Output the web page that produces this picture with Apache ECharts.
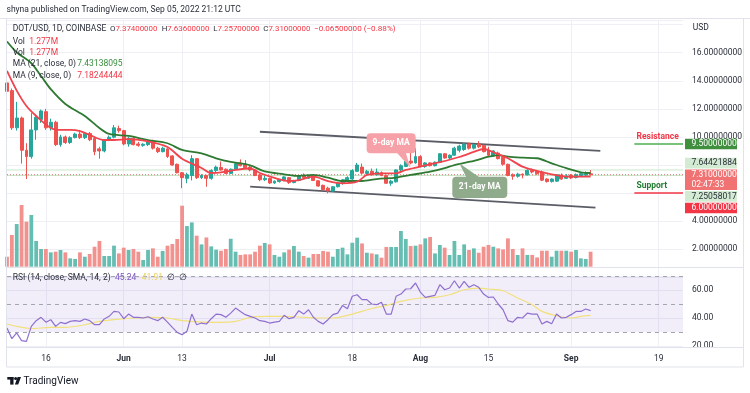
<!DOCTYPE html>
<html><head><meta charset="utf-8">
<script src="https://cdn.jsdelivr.net/npm/echarts@6/dist/echarts.min.js"></script>
<style>html,body{margin:0;padding:0;background:#fff}#c{width:750px;height:393px}</style>
</head><body><div id="c"></div>
<script>
// ---------- data ----------
const startDay = [2022, 4, 8];      // first category: 2022-05-08
const dayCount = 140;               // categories up to 2022-09-24 (blank space on the right)
const tickDates = ['2022-05-16','2022-06-01','2022-06-13','2022-07-01','2022-07-18','2022-08-01','2022-08-15','2022-09-01','2022-09-19'];
const tickLabels = ['16','Jun','13','Jul','18','Aug','15','Sep','19'];

const opens = [13.85,13.30,10.65,11.35,9.05,8.60,10.50,11.25,11.80,10.65,
11.05,9.45,10.00,9.60,9.95,10.20,9.95,10.25,9.90,9.15,
9.00,9.75,9.98,10.60,10.45,9.50,9.90,9.50,9.40,9.45,
9.70,9.20,8.95,9.15,8.65,8.05,7.45,7.05,7.25,8.45,
7.10,7.25,7.05,7.60,7.82,7.70,7.40,7.70,8.15,8.05,
7.85,7.65,7.30,6.95,7.05,6.72,6.82,6.95,7.10,6.75,
6.90,7.25,7.05,7.25,6.88,6.55,6.35,6.15,6.45,6.70,
6.85,7.00,7.55,7.85,7.40,7.55,7.30,7.45,7.25,6.70,
6.80,7.65,7.90,8.28,8.15,8.60,7.90,8.15,7.95,8.20,
8.80,8.50,8.70,9.05,9.10,9.50,9.20,9.50,9.40,9.00,
8.65,8.85,8.55,8.05,7.30,7.20,7.35,7.30,7.62,7.58,
7.50,7.00,6.82,6.85,7.28,7.05,7.28,7.10,7.25,7.28,
7.374];
const closes = [13.25,10.65,11.35,9.05,8.60,10.50,11.40,11.85,10.65,11.05,
9.45,10.00,9.60,9.95,10.20,9.95,10.25,9.80,8.95,9.00,
9.75,9.98,10.65,10.45,9.50,9.90,9.45,9.40,9.48,9.70,
9.20,8.95,9.20,8.60,8.00,7.45,7.10,7.30,8.45,7.10,
7.25,7.05,7.60,7.85,7.65,7.40,7.70,8.10,7.95,7.80,
7.65,7.25,6.95,7.05,6.72,6.85,6.95,7.15,6.75,6.88,
7.25,7.10,7.25,6.90,6.50,6.25,6.15,6.45,6.70,6.95,
7.10,7.60,8.00,7.42,7.55,7.30,7.50,7.25,6.70,6.85,
7.65,7.95,8.28,8.15,8.60,7.90,8.15,7.95,8.20,8.80,
8.50,8.70,9.20,9.35,9.50,9.20,9.45,9.30,8.95,8.70,
9.00,8.45,8.05,7.25,7.20,7.35,7.30,7.62,7.50,7.38,
6.92,6.82,7.00,7.30,7.00,7.20,7.08,7.30,7.38,7.37,
7.31];
const lows = [13.15,10.50,10.45,8.10,7.00,8.45,9.80,11.00,10.50,10.45,
9.35,9.30,9.50,9.50,9.90,9.85,9.85,9.70,8.70,8.45,
8.90,9.70,9.90,10.30,9.40,9.30,9.40,9.30,9.30,9.35,
9.10,8.85,8.90,8.50,7.95,7.40,6.35,6.70,6.90,7.00,
7.00,6.45,6.95,7.45,7.60,7.35,7.35,7.65,7.90,7.75,
7.55,7.20,6.85,6.85,6.65,6.65,6.75,6.85,6.65,6.70,
6.85,7.00,7.00,6.85,6.45,6.20,5.98,6.10,6.40,6.60,
6.80,6.95,7.50,7.35,7.25,7.25,7.25,7.20,6.65,6.52,
6.75,7.55,7.85,8.05,8.10,7.85,7.80,7.90,7.90,8.15,
8.45,8.40,8.65,8.90,9.00,9.10,9.10,9.20,8.90,8.60,
8.60,8.40,7.95,7.20,6.95,7.10,7.05,7.25,7.40,7.30,
6.85,6.75,6.75,6.80,6.95,7.00,7.00,7.05,7.20,7.20,
7.257];
const highs = [14.05,13.45,12.50,11.45,9.55,11.70,11.60,11.95,12.00,11.30,
11.15,10.15,10.10,10.05,10.30,10.50,10.35,10.35,10.00,9.30,
9.85,10.10,10.85,10.80,10.50,10.00,10.00,9.65,9.55,9.80,
9.80,9.30,9.30,9.20,8.70,8.10,7.50,7.45,8.70,8.50,
7.35,7.30,7.70,7.95,8.25,7.75,7.75,8.20,8.40,8.35,
7.95,7.70,7.35,7.25,7.10,6.90,7.00,7.20,7.15,6.95,
7.30,7.40,7.30,7.30,6.90,6.60,6.45,6.50,6.80,7.00,
7.20,7.70,8.15,8.10,7.65,7.75,7.75,7.55,7.30,6.95,
7.70,8.05,8.35,8.85,9.20,8.70,8.20,8.20,8.25,8.85,
8.85,8.75,9.30,9.45,9.55,9.60,9.50,9.70,9.45,9.30,
9.05,8.95,8.60,8.10,7.40,7.45,7.40,7.70,7.75,7.65,
7.60,7.05,7.05,7.35,7.40,7.35,7.35,7.40,7.42,7.55,
7.636];
const volumes = [0.85,2.70,3.63,5.25,3.83,4.40,2.19,1.51,1.51,1.22,
1.28,1.42,1.22,0.71,0.66,1.22,0.85,1.08,1.70,2.19,
0.91,0.91,1.79,1.13,1.62,1.42,1.51,1.28,0.57,1.42,
1.56,0.85,1.34,1.79,1.93,2.36,5.19,3.46,3.77,2.64,
1.90,2.49,1.73,1.45,1.36,1.51,2.38,1.28,1.00,1.05,
1.05,1.28,1.79,2.02,1.90,1.00,0.85,1.22,1.45,1.76,
1.28,0.91,0.77,1.08,1.08,1.34,1.28,0.85,1.51,1.62,
1.05,2.04,2.47,1.98,1.19,1.13,1.05,0.77,1.68,1.68,
1.68,3.04,2.36,1.76,1.79,1.90,2.41,2.53,1.13,1.85,
1.62,1.00,2.19,1.00,1.90,1.42,1.56,1.19,1.70,1.85,
1.70,1.56,1.47,2.41,1.51,1.00,1.56,1.00,1.00,0.79,
1.36,1.36,0.85,1.36,1.36,1.36,1.28,1.42,0.71,0.66,
1.277];
// moving averages: [day index, value]
const ma21Pts = [[0,16.8],[2,16.03],[5,15.25],[7,14.34],[9,13.4],[12,12.35],[16,11.49],[19,10.64],[21,10.21],[25,10.07],
[29,9.78],[33,9.55],[36,9.07],[40,8.83],[43,8.48],[46,8.22],[50,7.98],[53,7.54],[57,7.34],[60,7.22],
[63,7.29],[66,7.10],[69,6.86],[73,6.86],[76,7.00],[80,7.10],[83,7.29],[87,7.52],[90,7.77],[92,8.00],
[96,8.29],[99,8.59],[101,8.71],[103,8.59],[106,8.52],[109,8.48],[112,8.12],[115,7.77],[118,7.48],[120,7.43]];
const ma9Pts = [[0,14.7],[2,13.3],[4,12.2],[6,11.49],[9,10.64],[11,10.5],[13,10.5],[15,10.42],[17,10.14],[20,9.78],
[22,9.78],[25,9.85],[29,9.68],[33,9.28],[36,8.45],[40,7.79],[42,7.43],[44,7.47],[47,7.65],[50,7.75],
[52,7.43],[55,7.08],[58,6.86],[60,6.93],[63,7.17],[66,6.86],[69,6.70],[72,6.81],[74,7.29],[77,7.41],
[80,7.41],[82,7.65],[85,7.88],[87,8.05],[89,8.2],[93,8.57],[96,8.93],[98,9.14],[100,8.91],[103,8.48],
[106,7.88],[109,7.57],[112,7.34],[115,7.17],[118,7.17],[120,7.18]];
const rsi = [32.8,25.2,29.3,23.8,23.3,34.0,38.1,40.5,37.0,38.8,
34.0,36.9,36.0,37.6,38.1,37.6,39.3,38.1,35.2,35.2,
39.3,41.2,44.7,44.3,39.5,42.8,40.5,40.5,40.0,40.9,
39.3,38.1,40.5,37.1,33.3,29.7,28.1,30.5,42.8,35.2,
36.4,35.7,39.5,42.8,42.4,40.5,43.5,47.1,44.7,42.4,
41.2,40.0,38.1,37.6,36.4,37.1,37.6,41.9,39.5,40.5,
45.2,42.8,45.9,40.5,37.6,35.7,38.8,42.4,43.5,49.0,
46.6,55.5,56.6,53.1,53.1,50.0,49.5,51.2,42.8,42.8,
55.5,57.1,60.7,60.9,65.0,58.5,54.7,55.5,56.2,63.8,
60.2,61.4,66.6,61.4,66.2,61.9,63.8,61.9,57.1,54.7,
55.0,50.0,45.9,38.1,37.1,40.5,40.0,43.5,42.8,42.8,
35.7,37.6,35.9,42.8,40.0,40.5,42.4,44.7,44.7,46.4,
45.24];
const rsiSmaPts = [[0,35.7],[2,34.0],[5,32.4],[9,33.3],[12,33.3],[16,35.2],[19,37.6],[22,38.8],[26,40.0],[29,40.5],
[33,40.0],[36,38.1],[40,37.1],[43,36.9],[47,37.6],[50,40.5],[53,41.2],[57,41.2],[60,40.7],[64,40.0],
[67,40.0],[71,42.8],[75,46.8],[78,49.0],[81,51.9],[85,54.3],[88,54.7],[91,56.6],[94,60.2],[97,61.4],
[99,60.7],[102,59.5],[105,54.3],[108,49.5],[110,44.7],[113,41.6],[116,40.0],[118,41.2],[120,41.91]];
// drawn channel lines: [day index, price]
const upperTrend = [[52,10.37],[122,9.0]];
const lowerTrend = [[50,6.46],[121,4.96]];
const resistanceLevel = 9.5, supportLevel = 6.0;
const lastPrice = 7.31, lastCountdown = '02:47:33';
const upperTag = 7.64421884, lowerTag = 7.25058017;
const priceTicksShown = [2,4,10,12,14,16];

// ---------- build ----------
const FONT = 'Roboto';
const dates = [];
for (let i = 0; i < dayCount; i++) {
  const d = new Date(Date.UTC(startDay[0], startDay[1], startDay[2] + i));
  dates.push(d.toISOString().slice(0, 10));
}
const UP = '#26a69a', DOWN = '#ef5350';
const candleData = opens.map((o, i) => [o, closes[i], lows[i], highs[i]]);
const volData = volumes.map((v, i) => ({value: v, itemStyle: {color: closes[i] >= opens[i] ? '#66bdb2' : '#f2928f'}}));
const pts = a => a.map(p => [dates[p[0]], p[1]]);
const isTick = (idx, val) => tickDates.indexOf(val) >= 0;
const gridLine = '#eef0f5';

const xBase = (gi, extra) => Object.assign({
  type: 'category', gridIndex: gi, data: dates, boundaryGap: false,
  axisLine: {show: false}, axisTick: {show: false}, axisLabel: {show: false},
  splitLine: {show: true, interval: isTick, lineStyle: {color: gridLine, width: 1}}
}, extra || {});

const option = {
  animation: false,
  backgroundColor: '#ffffff',
  grid: [
    {left: 7, right: 67, top: 20, bottom: 115.7, outerBoundsMode: 'none', containLabel: false},
    {left: 7, right: 67, top: 149.2, bottom: 126.3, outerBoundsMode: 'none', containLabel: false},
    {left: 7, right: 67, top: 267.6, bottom: 47, outerBoundsMode: 'none', containLabel: false}
  ],
  xAxis: [
    xBase(0),
    xBase(1, {splitLine: {show: false}}),
    xBase(2, {axisLabel: {show: true, interval: isTick, margin: 8, color: '#2a2e39', fontSize: 8.5, fontFamily: FONT,
      formatter: v => { const t = tickLabels[tickDates.indexOf(v)]; return isNaN(+t) ? '{b|' + t + '}' : t; },
      rich: {b: {fontWeight: 'bold', fontSize: 8.5, fontFamily: FONT, color: '#2a2e39'}}}})
  ],
  yAxis: [
    {type: 'value', gridIndex: 0, position: 'right', min: 0, max: 18.33, interval: 2,
      axisLine: {show: false}, axisTick: {show: false},
      splitLine: {show: true, lineStyle: {color: gridLine}},
      axisLabel: {show: true, margin: 9, color: '#2a2e39', fontSize: 8.5, fontFamily: FONT, showMaxLabel: false,
        formatter: v => priceTicksShown.indexOf(v) >= 0 ? v.toFixed(8) : ''}},
    {type: 'value', gridIndex: 1, min: 0, max: 10, show: false, splitLine: {show: false}},
    {type: 'value', gridIndex: 2, position: 'right', min: 20, max: 76, interval: 20,
      axisLine: {show: false}, axisTick: {show: false},
      splitLine: {show: true, lineStyle: {color: gridLine}},
      axisLabel: {show: true, margin: 9, color: '#2a2e39', fontSize: 8.5, fontFamily: FONT, showMaxLabel: false,
        formatter: v => v.toFixed(2)}}
  ],
  series: [
    {type: 'bar', xAxisIndex: 1, yAxisIndex: 1, data: volData, barWidth: 3.8, z: 1},
    {type: 'line', xAxisIndex: 0, yAxisIndex: 0, data: [[dates[0], upperTag], [dates[dayCount - 1], upperTag]],
      symbol: 'none', lineStyle: {color: '#c9e7c9', width: 1}, z: 1, silent: true},
    {type: 'line', xAxisIndex: 0, yAxisIndex: 0, data: [[dates[0], lowerTag], [dates[dayCount - 1], lowerTag]],
      symbol: 'none', lineStyle: {color: '#c9e7c9', width: 1}, z: 1, silent: true},
    {type: 'line', xAxisIndex: 0, yAxisIndex: 0, data: [[dates[0], lastPrice], [dates[dayCount - 1], lastPrice]],
      symbol: 'none', lineStyle: {color: '#e0716b', width: 1, type: [1, 2]}, z: 1, silent: true},
    {type: 'line', xAxisIndex: 0, yAxisIndex: 0, data: pts(upperTrend), symbol: 'none',
      lineStyle: {color: '#5a5d66', width: 1.8}, z: 3},
    {type: 'line', xAxisIndex: 0, yAxisIndex: 0, data: pts(lowerTrend), symbol: 'none',
      lineStyle: {color: '#5a5d66', width: 1.8}, z: 3},
    {type: 'candlestick', xAxisIndex: 0, yAxisIndex: 0, data: candleData, barWidth: 3.4, z: 4,
      itemStyle: {color: UP, color0: DOWN, borderColor: UP, borderColor0: DOWN, borderWidth: 1}},
    {type: 'line', xAxisIndex: 0, yAxisIndex: 0, data: pts(ma21Pts), symbol: 'none', smooth: 0.3,
      lineStyle: {color: '#2f7a32', width: 1.8}, z: 5},
    {type: 'line', xAxisIndex: 0, yAxisIndex: 0, data: pts(ma9Pts), symbol: 'none', smooth: 0.3,
      lineStyle: {color: '#f0444f', width: 1.8}, z: 5},
    {type: 'line', xAxisIndex: 0, yAxisIndex: 0,
      data: [[dates[129], resistanceLevel], [dates[dayCount - 1], resistanceLevel]], symbol: 'none',
      lineStyle: {color: '#4caf50', width: 1.5}, z: 6},
    {type: 'line', xAxisIndex: 0, yAxisIndex: 0,
      data: [[dates[129], supportLevel], [dates[dayCount - 1], supportLevel]], symbol: 'none',
      lineStyle: {color: '#f23645', width: 1.5}, z: 6},
    {type: 'line', xAxisIndex: 2, yAxisIndex: 2, data: rsi, symbol: 'none',
      lineStyle: {color: '#8e6fd0', width: 1.2}, z: 5,
      markArea: {silent: true, itemStyle: {color: 'rgba(126,87,194,0.1)'}, data: [[{yAxis: 70}, {yAxis: 30}]]},
      markLine: {silent: true, symbol: ['none', 'none'], label: {show: false},
        lineStyle: {color: '#a3a6af', width: 1, type: [4, 4]},
        data: [{yAxis: 70}, {yAxis: 50}, {yAxis: 30}]}},
    {type: 'line', xAxisIndex: 2, yAxisIndex: 2, data: pts(rsiSmaPts), symbol: 'none', smooth: 0.3,
      lineStyle: {color: '#f2e07c', width: 1.2}, z: 4}
  ]
};

const chart = echarts.init(document.getElementById('c'), null, {renderer: 'canvas', width: 750, height: 393});
chart.setOption(option);

// ---------- annotations ----------
const G = [];
const txt = (x, y, s, fill, opt) => {
  opt = opt || {};
  G.push({type: 'text', x: x, y: y, z: 100, style: {text: s, fill: fill, fontSize: opt.size || 8.5, fontFamily: FONT,
    fontWeight: opt.weight || 'normal', align: opt.align || 'left', verticalAlign: 'middle'}});
};
const line = (x1, y1, x2, y2, stroke, w) => G.push({type: 'line', z: 90, shape: {x1, y1, x2, y2},
  style: {stroke: stroke, lineWidth: w || 1}});
const rect = (x, y, w, h, fill, r) => G.push({type: 'rect', z: 95, shape: {x, y, width: w, height: h, r: r || 0},
  style: {fill: fill}});
const px = (i, v) => chart.convertToPixel({gridIndex: 0}, [dates[i], v]);
const py = v => chart.convertToPixel({yAxisIndex: 0}, v);

// frame
const FR = '#e0e3eb';
line(0, 18.5, 750, 18.5, FR);
line(6.5, 18.5, 6.5, 367, FR);
line(743.5, 18.5, 743.5, 367, FR);
line(6.5, 367, 743.5, 367, FR);
line(6.5, 267.5, 743.5, 267.5, FR);
line(6.5, 347.5, 743.5, 347.5, FR);

// header and legend
const DK = '#2a2e39', RD = '#f23645', GN = '#388e3c';
txt(6.5, 10, 'shyna published on TradingView.com, Sep 05, 2022 21:12 UTC', DK);
txt(12.7, 29.3, 'DOT/USD, 1D, COINBASE', DK);
const ohlcLegend = [['O', '7.37400000', 110], ['H', '7.63600000', 161.7], ['L', '7.25700000', 213.3], ['C', '7.31000000', 263.3]];
ohlcLegend.forEach(o => G.push({type: 'text', x: o[2], y: 29.3, z: 100, style: {text: '{l|' + o[0] + '}{v|' + o[1] + '}',
  verticalAlign: 'middle', rich: {l: {fill: DK, fontSize: 7.9, fontFamily: FONT}, v: {fill: RD, fontSize: 7.9, fontFamily: FONT}}}}));
txt(314, 29.3, '\u22120.06500000 (\u22120.88%)', RD, {size: 8.1});
txt(12.7, 41.7, 'Vol', DK); txt(29.3, 41.7, '1.277M', RD);
txt(12.7, 52.5, 'Vol', DK); txt(29.3, 52.5, '1.277M', RD);
txt(12.7, 63.6, 'MA (21, close, 0)', DK); txt(77.3, 63.6, '7.43138095', GN);
txt(12.7, 76, 'MA (9, close, 0)', DK); txt(77.3, 76, '7.18244444', RD);
txt(692.7, 28, 'USD', DK);
txt(12.7, 278.3, 'RSI (14, close, SMA, 14, 2)', DK);
txt(115, 278.3, '45.24', '#7e57c2');
txt(141.7, 278.3, '41.91', '#e8d15a');
txt(166.5, 278.3, '\u2205', DK); txt(178.5, 278.3, '\u2205', DK);

// TradingView logo
rect(7.3, 377, 6.2, 2.6, '#131722');
rect(10.2, 377, 3.3, 7.6, '#131722');
G.push({type: 'circle', z: 95, shape: {cx: 15.6, cy: 378.6, r: 1.5}, style: {fill: '#131722'}});
G.push({type: 'polygon', z: 95, shape: {points: [[17.6, 377], [21, 377], [18.2, 384.6], [14.9, 384.6]]}, style: {fill: '#131722'}});
txt(23.5, 381, 'TradingView', '#131722', {size: 10});

// Resistance / Support labels
const yRes = py(resistanceLevel), ySup = py(supportLevel);
txt(636.5, yRes - 6.8, 'Resistance', RD, {weight: 'bold', size: 8.5});
txt(636.5, ySup - 6.8, 'Support', '#1e7b2e', {weight: 'bold', size: 8.5});

// price scale tags
const TX = 685, TW = 52, TH = 10.6;
const tag = (cy, h, bg, lines, fg) => {
  rect(TX, cy - 5.3, TW, h, bg);
  lines.forEach((s, k) => txt(691.5, cy + k * 10.3, s, fg));
};
const yLast = py(lastPrice);
const lastTop = yLast - 5.3, lastBottom = lastTop + 20.7;
tag(yLast, 20.7, '#f07272', [lastPrice.toFixed(8), lastCountdown], '#ffffff');
const yUp = Math.min(py(upperTag), lastTop - 1 - TH / 2);
tag(yUp, TH, '#d3ebd2', [upperTag.toFixed(8)], DK);
const yR = Math.min(yRes, yUp - TH - 1);
tag(yR, TH, '#3f8f3f', [resistanceLevel.toFixed(8)], '#ffffff');
const yLo = Math.max(py(lowerTag), lastBottom + 1 + TH / 2);
tag(yLo, TH, '#d3ebd2', [lowerTag.toFixed(8)], DK);
const yS = Math.max(ySup, yLo + TH + 1);
tag(yS, TH, '#f23645', [supportLevel.toFixed(8)], '#ffffff');

// callouts
const t9 = px(83, 7.79);
G.push({type: 'polygon', z: 96, shape: {points: [[t9[0] - 14, t9[1] - 15.5], [t9[0] - 5, t9[1] - 15.5], [t9[0], t9[1]]]}, style: {fill: '#f6a1a8'}});
rect(t9[0] - 44, t9[1] - 34.7, 49, 20, '#f6a1a8', 4);
txt(t9[0] - 19.5, t9[1] - 24.7, '9-day MA', '#ffffff', {align: 'center', weight: 'bold', size: 8.5});
const t21 = px(93, 8.12);
G.push({type: 'polygon', z: 96, shape: {points: [[t21[0], t21[1]], [t21[0] + 7, t21[1] + 14], [t21[0] + 20, t21[1] + 14]]}, style: {fill: '#8fab8c'}});
rect(t21[0] - 7, t21[1] + 13.4, 55, 21.3, '#8fab8c', 4);
txt(t21[0] + 20.5, t21[1] + 24, '21-day MA', '#ffffff', {align: 'center', weight: 'bold', size: 8.5});

chart.setOption({graphic: {elements: G}});
</script>
</body></html>
